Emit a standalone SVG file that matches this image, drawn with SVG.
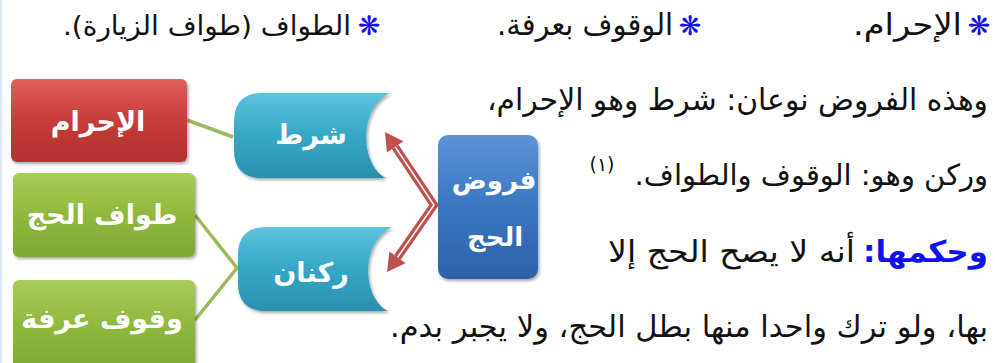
<svg xmlns="http://www.w3.org/2000/svg" width="995" height="363" viewBox="0 0 995 363">
<defs>
<linearGradient id="gRed" x1="0" y1="0" x2="0" y2="1"><stop offset="0" stop-color="#e0605c"/><stop offset="0.5" stop-color="#c63c3a"/><stop offset="1" stop-color="#b23130"/></linearGradient>
<linearGradient id="gGreen" x1="0" y1="0" x2="0" y2="1"><stop offset="0" stop-color="#a9cc5a"/><stop offset="0.5" stop-color="#8fb83c"/><stop offset="1" stop-color="#7fa834"/></linearGradient>
<linearGradient id="gCyan" x1="0" y1="0" x2="0" y2="1"><stop offset="0" stop-color="#5cc3de"/><stop offset="0.5" stop-color="#35a7c6"/><stop offset="1" stop-color="#2a90ad"/></linearGradient>
<linearGradient id="gBlue" x1="0" y1="0" x2="0" y2="1"><stop offset="0" stop-color="#5b93d6"/><stop offset="0.5" stop-color="#3a76c2"/><stop offset="1" stop-color="#2d62a8"/></linearGradient>
<filter id="sh" x="-10%" y="-10%" width="130%" height="130%"><feDropShadow dx="1.5" dy="2" stdDeviation="1.5" flood-color="#000" flood-opacity="0.35"/></filter>
</defs>
<style>
.txt{font-family:"DejaVu Sans",sans-serif;font-size:30px;fill:#111;}
.rtl{direction:rtl;text-anchor:start;}
.kw{fill:#1010f0;font-weight:bold;}
.sup{font-size:19px;text-anchor:middle;}
.lbl{font-family:"DejaVu Sans",sans-serif;font-size:27px;font-weight:bold;fill:#fff;text-anchor:middle;}
.star{font-family:"DejaVu Sans",sans-serif;fill:#1010f0;font-size:27px;text-anchor:middle;}
.conn{stroke:#9bbb59;stroke-width:3.5;fill:none;}
.arr{stroke:#c0504d;stroke-width:8;fill:none;stroke-linejoin:miter;}
.arrIn{stroke:#fff;stroke-width:1.6;fill:none;stroke-linejoin:miter;}
.head{fill:#c0504d;}
</style>
<rect x="0" y="0" width="995" height="363" fill="#fff"/>
<line x1="1" y1="0" x2="1" y2="363" stroke="#dce6f4" stroke-width="2"/>
<g id="header">
<text class="star" x="979" y="35">❋</text>
<text class="txt rtl" x="962" y="35" textLength="109" lengthAdjust="spacingAndGlyphs">الإحرام.</text>
<text class="star" x="690" y="35">❋</text>
<text class="txt rtl" x="673" y="35" textLength="176" lengthAdjust="spacingAndGlyphs">الوقوف بعرفة.</text>
<text class="star" x="369" y="35">❋</text>
<text class="txt rtl" x="351" y="35" style="font-size:27px" textLength="288" lengthAdjust="spacingAndGlyphs">الطواف (طواف الزيارة).</text>
</g>
<g id="paragraph">
<text class="txt rtl" x="988" y="110" textLength="501" lengthAdjust="spacingAndGlyphs">وهذه الفروض نوعان: شرط وهو الإحرام،</text>
<text class="txt rtl" x="988" y="185" style="font-size:29px">وركن وهو: الوقوف والطواف.</text>
<text class="txt sup" x="602" y="171">(١)</text>
<text class="txt rtl kw" x="988" y="262" textLength="125" lengthAdjust="spacingAndGlyphs">وحكمها:</text>
<text class="txt rtl" x="855" y="262" textLength="247" lengthAdjust="spacingAndGlyphs">أنه لا يصح الحج إلا</text>
<text class="txt rtl" x="988" y="337" textLength="598" lengthAdjust="spacingAndGlyphs">بها، ولو ترك واحدا منها بطل الحج، ولا يجبر بدم.</text>
</g>
<g id="connectors">
<line class="conn" x1="187" y1="120" x2="233" y2="137"/>
<polyline class="conn" points="195,215 237,268 195,320"/>
<polyline class="arr" points="395.2,146.9 434,205 397.5,257.4"/>
<polyline class="arrIn" points="395.2,146.9 434,205 397.5,257.4"/>
<polygon class="head" points="385,132 403.4,141.2 386.9,152.5"/>
<polygon class="head" points="387,272 405.6,263.2 389.4,251.5"/>
</g>
<g id="node-ihram">
<rect x="11" y="79" width="176" height="83" rx="6" fill="url(#gRed)" filter="url(#sh)"/>
<text class="lbl" x="98" y="131">الإحرام</text>
</g>
<g id="node-tawaf">
<rect x="13" y="173" width="182" height="84" rx="6" fill="url(#gGreen)" filter="url(#sh)"/>
<text class="lbl" x="102" y="224">طواف الحج</text>
</g>
<g id="node-wuquf">
<rect x="13" y="280" width="182" height="90" rx="6" fill="url(#gGreen)" filter="url(#sh)"/>
<text class="lbl" x="102" y="328">وقوف عرفة</text>
</g>
<g id="node-shart">
<path d="M390,93 L262,93 Q234,93 234,122 L234,150 Q234,178 262,178 L386,178 C360,165 358,108 390,93 Z" fill="url(#gCyan)" filter="url(#sh)"/>
<text class="lbl" x="311" y="144">شرط</text>
</g>
<g id="node-rukn">
<path d="M392,227 L266,227 Q238,227 238,255 L238,283 Q238,311 266,311 L388,311 C362,298 360,242 392,227 Z" fill="url(#gCyan)" filter="url(#sh)"/>
<text class="lbl" x="311" y="282">ركنان</text>
</g>
<g id="node-furud">
<rect x="438" y="135" width="100" height="144" rx="10" fill="url(#gBlue)" filter="url(#sh)"/>
<text class="lbl" x="494" y="189" style="font-size:26px">فروض</text>
<text class="lbl" x="495" y="246" style="font-size:26px">الحج</text>
</g>
</svg>
